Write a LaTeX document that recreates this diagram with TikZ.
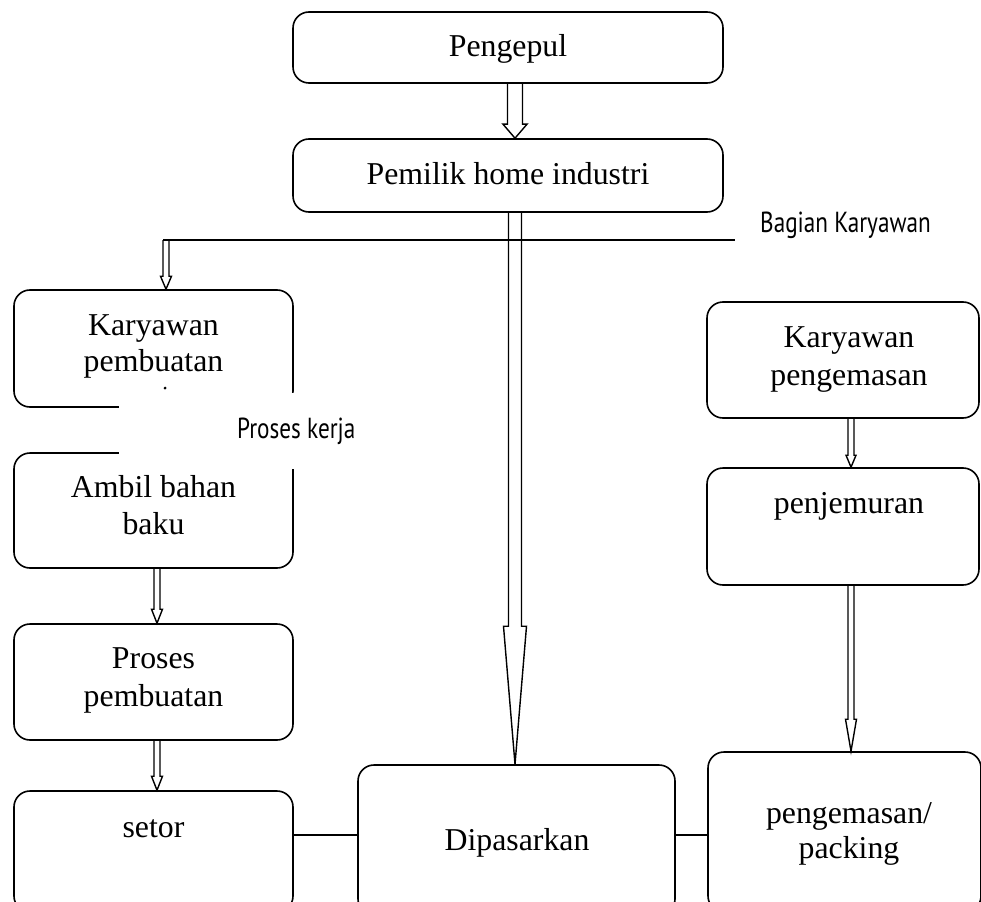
\documentclass[tikz,border=0pt]{standalone}
\usepackage{fontspec}
\setmainfont{Liberation Serif}
\newfontfamily\agency[FakeStretch=0.8]{PT Sans}
\usetikzlibrary{calc}
\tikzset{
  box/.style={draw, line width=1.6pt, rounded corners=16pt, inner sep=0pt},
  txt/.style={anchor=base, inner sep=0pt, font=\fontsize{31.8}{37}\selectfont},
  sidetxt/.style={anchor=base west, inner sep=0pt, font=\agency\fontsize{29}{34}\selectfont},
  arrowline/.style={draw, line width=1.4pt, line join=miter},
  conn/.style={draw, line width=1.6pt}
}
\newcommand{\blockarrow}[5]{%
  \path #1 coordinate (ba-s);
  \path #2 coordinate (ba-t0);
  \coordinate (ba-t) at (ba-s |- ba-t0);
  \draw[arrowline] ($(ba-s)+(-#3,0)$) -- ($(ba-t)+(-#3,-#5)$) -- ($(ba-t)+(-#4,-#5)$)
    -- (ba-t) -- ($(ba-t)+(#4,-#5)$) -- ($(ba-t)+(#3,-#5)$) -- ($(ba-s)+(#3,0)$);
}
\begin{document}
\begin{tikzpicture}[x=1pt,y=-1pt]
\useasboundingbox (0,0) rectangle (981,901);
\clip (0,0) rectangle (981,901);

% boxes
\node[box, minimum width=430pt, minimum height=71pt] (pengepul) at (508,47.5) {};
\node[box, minimum width=430pt, minimum height=73pt] (pemilik) at (508,175.5) {};
\node[box, minimum width=279pt, minimum height=117pt] (kpemb) at (153.5,348.5) {};
\node[box, minimum width=279pt, minimum height=115pt] (ambil) at (153.5,510.5) {};
\node[box, minimum width=279pt, minimum height=116pt] (proses) at (153.5,682) {};
\node[box, minimum width=279pt, minimum height=121pt] (setor) at (153.5,851.5) {};
\node[box, minimum width=317pt, minimum height=150pt] (dipas) at (516.5,840) {};
\node[box, minimum width=272pt, minimum height=116pt] (kpeng) at (843,360) {};
\node[box, minimum width=272pt, minimum height=117pt] (jemur) at (843,526.5) {};
\node[box, minimum width=273pt, minimum height=160pt] (packing) at (844.5,832) {};

% texts
\node[txt] (t1) at (508,57) {Pengepul};
\node[txt] (t2) at (508,185) {Pemilik home industri};
\node[txt] (t3a) at (153.5,335) {Karyawan};
\node[txt] (t3b) at (153.5,371) {pembuatan};
\node[txt] (t4a) at (153.5,497) {Ambil bahan};
\node[txt] (t4b) at (153.5,534) {baku};
\node[txt] (t5a) at (153.5,668) {Proses};
\node[txt] (t5b) at (153.5,706) {pembuatan};
\node[txt] (t6) at (153.5,837) {setor};
\node[txt] (t7) at (517,850) {Dipasarkan};
\node[txt] (t8a) at (849,347) {Karyawan};
\node[txt] (t8b) at (849,385) {pengemasan};
\node[txt] (t9) at (849,513) {penjemuran};
\node[txt] (t10a) at (849,823) {pengemasan/};
\node[txt] (t10b) at (849,858) {packing};

% horizontal line
\coordinate (hl) at (163,240);
\coordinate (hk) at (166,240);
\coordinate (hr) at (735,240);
\draw[conn] (hl) -- (hr);
\node[sidetxt] (bagian) at (760,233) {Bagian Karyawan};

% block arrows
\blockarrow{($(pengepul.south)+(7,0)$)}{(pemilik.north)}{7.5}{12}{14}
\blockarrow{($(pemilik.south)+(7,0)$)}{(dipas.north)}{6.5}{11.5}{138}
\blockarrow{(hk)}{(kpemb.north)}{3}{5.5}{13}
\blockarrow{($(ambil.south)+(3.5,0)$)}{(proses.north)}{3}{5.5}{14}
\blockarrow{($(proses.south)+(3.5,0)$)}{(setor.north)}{3}{5.5}{14}
\blockarrow{($(kpeng.south)+(8,0)$)}{(jemur.north)}{3}{5}{12}
\blockarrow{($(jemur.south)+(8,0)$)}{(packing.north)}{3}{5.5}{32}

% side connectors
\coordinate (c1) at ($(setor.east)+(0,-16.5)$);
\draw[conn] (c1) -- (c1 -| dipas.west);
\draw[conn] (c1 -| dipas.east) -- (c1 -| packing.west);

% white label covering
\fill[white] (119,393) rectangle (365,469);
\node[sidetxt] (proseskerja) at (237,438) {Proses kerja};
\fill (165,388) circle (1.5pt);
\end{tikzpicture}
\end{document}
